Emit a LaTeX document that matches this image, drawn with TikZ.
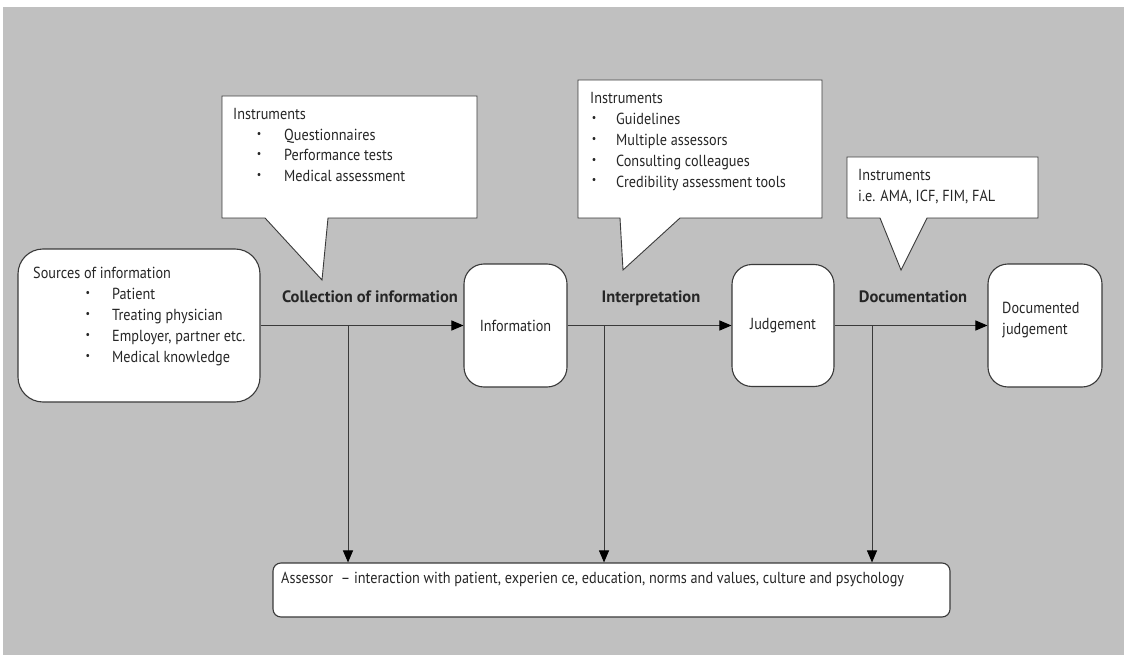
\documentclass[tikz,border=0pt]{standalone}
\usepackage{fontspec}
\setmainfont{PT Sans}[FakeStretch=0.89, BoldFeatures={FakeStretch=1.0}]
\usetikzlibrary{arrows.meta}
\definecolor{bggrey}{HTML}{C0C0C0}
\definecolor{linec}{HTML}{3A3A3A}
\newcommand\mybul{\raisebox{0.4ex}{\scalebox{0.7}{\textbullet}}}
\begin{document}
\begin{tikzpicture}[x=1pt,y=-1pt,
  every node/.style={font=\fontsize{16}{20}\selectfont, inner sep=0pt, text=black!85},
  txt/.style={anchor=base west},
  bul/.style={anchor=base},
  lbl/.style={anchor=base, font=\fontsize{16.5}{20}\selectfont\bfseries},
  rbox/.style={draw=linec, line width=1.1pt, fill=white},
  callout/.style={draw=linec, line width=0.9pt, fill=white},
  conn/.style={draw=linec, line width=1pt},
  arr/.style={conn, -{Triangle[length=12pt,width=10pt,color=black]}}]
\useasboundingbox (0,0) rectangle (1124,655);
\fill[bggrey] (3,7) rectangle (1124,655);

% boxes
\node[rbox, rounded corners=25pt, minimum width=242pt, minimum height=153pt] (src) at (139,325.5) {};
\node[rbox, rounded corners=20pt, minimum width=103pt, minimum height=123pt] (info) at (515.5,325.5) {Information};
\node[rbox, rounded corners=20pt, minimum width=102pt, minimum height=122pt] (judg) at (783,325.5) {Judgement};
\node[rbox, rounded corners=20pt, minimum width=114pt, minimum height=123pt] (docj) at (1045,325.5) {};
\node[rbox, rounded corners=8pt, minimum width=677pt, minimum height=54pt] (assr) at (611.5,590) {};

% texts in boxes
\node[txt] (srct) at (33,278) {Sources of information};
\foreach \t [count=\i] in {Patient,Treating physician,{Employer, partner etc.},Medical knowledge}{
  \node[bul] (sb\i) at (88,{279+20.8*\i}) {\mybul};
  \node[txt] (st\i) at (112,{279+20.8*\i}) {\t};
}
\node[txt] (dj1) at (1002,313) {Documented};
\node[txt] (dj2) at (1002,334) {judgement};
\node[txt] (assrt) at (281,583) {Assessor\ \ – interaction with patient, experien ce, education, norms and values, culture and psychology};

% callouts
\draw[callout] (222,96) -- (477,96) -- (477,218) -- (328,218) -- (322,280) -- (265,218) -- (222,218) -- cycle;
\node[txt] (c1t) at (233,120) {Instruments};
\foreach \t [count=\i] in {Questionnaires,Performance tests,Medical assessment}{
  \node[bul] (c1b\i) at (259,{120+20.5*\i}) {\mybul};
  \node[txt] (c1i\i) at (284,{120+20.5*\i}) {\t};
}
\draw[callout] (578,80) -- (822,80) -- (822,218) -- (680,218) -- (623,270) -- (620,218) -- (578,218) -- cycle;
\node[txt] (c2t) at (590,104) {Instruments};
\foreach \t [count=\i] in {Guidelines,Multiple assessors,Consulting colleagues,Credibility assessment tools}{
  \node[bul] (c2b\i) at (594,{104+20.8*\i}) {\mybul};
  \node[txt] (c2i\i) at (616,{104+20.8*\i}) {\t};
}
\draw[callout] (847,157) -- (1038,157) -- (1038,218) -- (927,218) -- (901,270) -- (880,218) -- (847,218) -- cycle;
\node[txt] (c3t) at (858,181) {Instruments};
\node[txt] (c3i) at (858,202) {i.e. AMA, ICF, FIM, FAL};

% stage labels
\node[lbl] (l1) at (370,302) {Collection of information};
\node[lbl] (l2) at (651,302) {Interpretation};
\node[lbl] (l3) at (913,302) {Documentation};

% connectors
\draw[arr] (src) -- (info);
\draw[arr] (info) -- (judg);
\draw[arr] (judg) -- (docj);
\coordinate (v1) at (348,325.5);
\coordinate (v2) at (604,325.5);
\coordinate (v3) at (872,325.5);
\draw[arr] (v1) -- (v1 |- assr.north);
\draw[arr] (v2) -- (v2 |- assr.north);
\draw[arr] (v3) -- (v3 |- assr.north);
\end{tikzpicture}
\end{document}
